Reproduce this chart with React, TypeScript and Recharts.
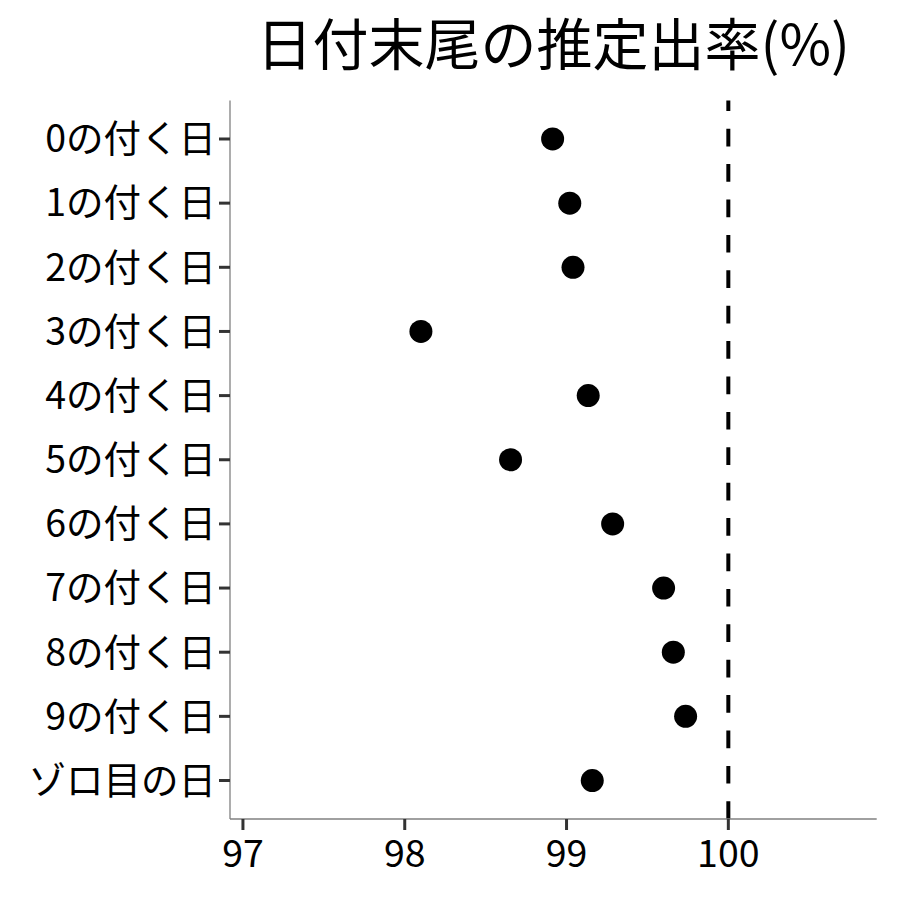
import React from 'react';
import { ScatterChart, Scatter, XAxis, YAxis, ReferenceLine } from 'recharts';

const categories = [
  '0の付く日', '1の付く日', '2の付く日', '3の付く日', '4の付く日', '5の付く日',
  '6の付く日', '7の付く日', '8の付く日', '9の付く日', 'ゾロ目の日',
];
const rates = [98.914, 99.02, 99.04, 98.1, 99.134, 98.654, 99.285, 99.6, 99.66, 99.736, 99.159];
const xTicks = [97, 98, 99, 100];
const yTicks = [1, 2, 3, 4, 5, 6, 7, 8, 9, 10, 11];
const refValue = 100;
const title = '日付末尾の推定出率(%)';

const FONT = '"Noto Sans CJK JP", "Noto Sans", sans-serif';

const data = categories.map((name, i) => ({ name, idx: i + 1, rate: rates[i] }));

const Dot = (props: any) => <circle cx={props.cx} cy={props.cy} r={11.5} fill="#000" />;

const DashedRef = (props: any) => {
  const { x1, y1, x2, y2 } = props;
  const yb = Math.max(y1, y2);
  const yt = Math.min(y1, y2);
  return (
    <line x1={x1} y1={yb} x2={x2} y2={yt} stroke="#000" strokeWidth={4} strokeDasharray="17.7 17.7" />
  );
};

export default function App() {
  return (
    <div style={{ position: 'absolute', left: 0, top: 0, width: 900, height: 900, background: '#fff' }}>
      <ScatterChart width={900} height={900} margin={{ top: 100.5, right: 23.3, bottom: 0, left: 0 }}>
        <XAxis
          type="number"
          dataKey="rate"
          domain={[96.92, 100.917]}
          ticks={xTicks}
          allowDataOverflow
          height={81}
          axisLine={{ stroke: '#808080', strokeWidth: 1.3 }}
          tickLine={{ stroke: '#333', strokeWidth: 3 }}
          tickSize={11}
          tickMargin={10}
          interval={0}
          tick={{ fill: '#000', fontSize: 37.5, fontFamily: FONT }}
        />
        <YAxis
          type="number"
          dataKey="idx"
          domain={[0.4, 11.6]}
          reversed
          ticks={yTicks}
          allowDataOverflow
          interval={0}
          width={230}
          tickFormatter={(v: number) => categories[v - 1]}
          axisLine={{ stroke: '#808080', strokeWidth: 1.3 }}
          tickLine={{ stroke: '#333', strokeWidth: 3 }}
          tickSize={11}
          tickMargin={3}
          tick={{ fill: '#000', fontSize: 37.5, fontFamily: FONT }}
        />
        <ReferenceLine x={refValue} shape={DashedRef} />
        <Scatter data={data} shape={Dot} isAnimationActive={false} />
      </ScatterChart>
      <svg width={900} height={900} style={{ position: 'absolute', left: 0, top: 0, pointerEvents: 'none' }}>
        <text x={553.3} y={65} textAnchor="middle" fontSize={56} fontFamily={FONT} fill="#000">
          {title}
        </text>
      </svg>
    </div>
  );
}
